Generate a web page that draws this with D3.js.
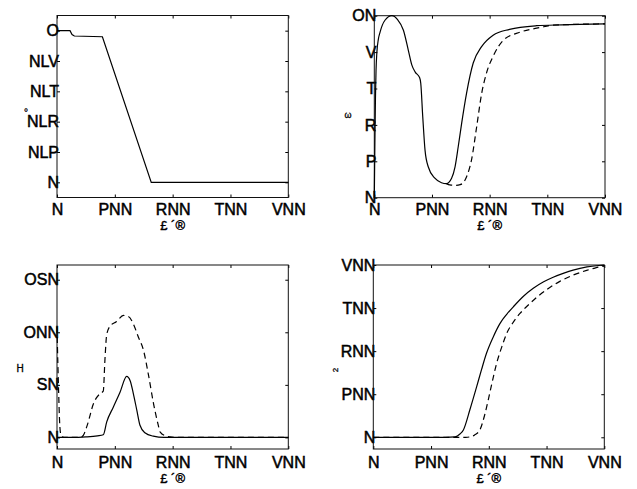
<!DOCTYPE html>
<html>
<head>
<meta charset="utf-8">
<script src="https://cdn.jsdelivr.net/npm/d3@7"></script>
<style>
  html, body { margin: 0; padding: 0; background: #fff; }
  svg { display: block; }
  text { font-family: "Liberation Sans", Arial, sans-serif; fill: #000; }
</style>
</head>
<body>
<svg id="chart" width="637" height="489"></svg>
<script>
// Shared x axis (all four panels)
const xTickValues = [0, 200, 400, 600, 800];
const xTickLabels = ["N", "PNN", "RNN", "TNN", "VNN"];
const xAxisTitle = "£ ´®";

// Panel 1 (top left)
const p1TickValues = [0, 0.2, 0.4, 0.6, 0.8, 1];
const p1TickLabels = ["N", "NLP", "NLR", "NLT", "NLV", "O"];
const p1X = [0, 45, 52, 60, 157, 326, 800];
const p1Y = [1.0, 1.0, 0.975, 0.965, 0.96, 0, 0];

// Panel 2 (top right)
const p2TickValues = [0, 2, 4, 6, 8, 10];
const p2TickLabels = ["N", "P", "R", "T", "V", "ON"];
const p2SolidX = [0, 2, 4, 6, 9, 14, 20, 37, 61, 80, 101, 118, 130, 142, 157, 161, 168, 176, 187, 210, 233, 250, 268, 280, 291, 303, 320, 343, 372, 412, 469, 563, 650, 800];
const p2SolidY = [0, 3, 5.5, 7, 8, 8.7, 9.1, 9.75, 10, 9.8, 9.2, 8.1, 7.3, 6.9, 6.6, 6.3, 4.45, 2.6, 1.7, 1.07, 0.82, 0.77, 1.07, 1.7, 2.8, 4.1, 5.75, 7.4, 8.3, 8.93, 9.25, 9.45, 9.5, 9.55];
const p2DashX = [250, 262, 280, 298, 310, 320, 337, 355, 372, 390, 413, 448, 506, 575, 621, 800];
const p2DashY = [0.77, 0.7, 0.68, 0.72, 0.85, 1.15, 2.07, 3.9, 5.7, 6.9, 7.8, 8.66, 9.1, 9.35, 9.48, 9.55];

// Panel 3 (bottom left)
const p3TickValues = [0, 50, 100, 150];
const p3TickLabels = ["N", "SN", "ONN", "OSN"];
const p3SolidX = [0, 50, 100, 140, 160, 172, 195, 218, 241, 253, 264, 276, 287, 304, 333, 370, 800];
const p3SolidY = [0, 0, 0.5, 1.5, 2.5, 14.8, 29, 43, 58, 54, 41.7, 26, 11.6, 4.4, 1.2, 0, 0];
const p3DashX = [0, 3, 6, 9, 13, 18, 30, 80, 91, 105, 126, 149, 160, 166, 172, 184, 205, 230, 247, 264, 282, 299, 316, 334, 350, 357, 375, 391, 420, 800];
const p3DashY = [105, 70, 40, 15, 3, 0.5, 0, 0, 2, 12, 32, 41.7, 44, 75, 98, 106, 110, 116, 115, 108, 95, 83, 60, 32, 12, 5, 1.5, 0.5, 0, 0];

// Panel 4 (bottom right)
const p4TickValues = [0, 200, 400, 600, 800];
const p4TickLabels = ["N", "PNN", "RNN", "TNN", "VNN"];
const p4SolidX = [0, 250, 283, 300, 312, 335, 358, 375, 392, 415, 439, 462, 485, 520, 554, 590, 623, 660, 692, 740, 800];
const p4SolidY = [0, 0, 2, 15, 34, 130, 235, 315, 390, 465, 529, 571, 606, 655, 692, 722, 743, 762, 776, 791, 800];
const p4DashX = [0, 320, 335, 350, 369, 385, 398, 412, 427, 445, 462, 485, 508, 535, 566, 605, 646, 690, 739, 770, 800];
const p4DashY = [0, 0, 2, 10, 34, 100, 173, 258, 343, 420, 482, 535, 575, 612, 650, 690, 724, 752, 775, 787, 795];

const zip = (xs, ys) => xs.map((x, i) => [x, ys[i]]);

const svg = d3.select("#chart");

function panel(cfg) {
  const g = svg.append("g");
  const x = d3.scaleLinear().domain([0, 800]).range([cfg.left, cfg.right]);
  const y = d3.scaleLinear().domain(cfg.yDomain).range([cfg.bottom, cfg.top]);

  // inward ticks on all four sides, labels only left and bottom
  const tick = 3;
  const left = d3.axisLeft(y).tickValues(cfg.yTicks)
    .tickFormat((d, i) => cfg.yLabels[i]).tickSizeInner(-tick).tickSizeOuter(0).tickPadding(-2);
  const right = d3.axisRight(y).tickValues(cfg.yTicks)
    .tickFormat("").tickSizeInner(-tick).tickSizeOuter(0);
  const bottom = d3.axisBottom(x).tickValues(xTickValues)
    .tickFormat((d, i) => xTickLabels[i]).tickSizeInner(-tick).tickSizeOuter(0).tickPadding(cfg.xPad);
  const top = d3.axisTop(x).tickValues(xTickValues)
    .tickFormat("").tickSizeInner(-tick).tickSizeOuter(0);

  const axes = [
    [left, `translate(${cfg.left},0)`],
    [right, `translate(${cfg.right},0)`],
    [bottom, `translate(0,${cfg.bottom})`],
    [top, `translate(0,${cfg.top})`]
  ];
  axes.forEach(([ax, tr]) => {
    const a = g.append("g").attr("transform", tr).call(ax);
    a.select(".domain").remove();
    a.selectAll("line").attr("stroke", "#000").attr("stroke-width", 1);
    a.selectAll("text").attr("font-size", 16).attr("font-family", "Liberation Sans, Arial, sans-serif")
      .attr("fill", "#000").attr("stroke", "#000").attr("stroke-width", 0.5);
  });

  g.append("rect")
    .attr("x", cfg.left).attr("y", cfg.top)
    .attr("width", cfg.right - cfg.left).attr("height", cfg.bottom - cfg.top)
    .attr("fill", "none").attr("stroke", "#111").attr("stroke-width", 1);

  const line = d3.line().x(d => x(d[0])).y(d => y(d[1])).curve(cfg.curve);
  cfg.series.forEach(s => {
    g.append("path").datum(s.data)
      .attr("d", line)
      .attr("fill", "none").attr("stroke", "#000")
      .attr("stroke-width", 1.2)
      .attr("stroke-dasharray", s.dashed ? "6,4" : null);
  });

  // x axis title
  g.append("text")
    .attr("x", (cfg.left + cfg.right) / 2).attr("y", cfg.titleY)
    .attr("text-anchor", "middle").attr("font-size", 13)
    .attr("fill", "#000").attr("stroke", "#000").attr("stroke-width", 0.4)
    .text(xAxisTitle);

  // y axis symbol
  g.append("text")
    .attr("x", cfg.yTitle.x).attr("y", cfg.yTitle.y)
    .attr("text-anchor", "middle").attr("font-size", cfg.yTitle.size)
    .attr("fill", "#000").attr("stroke", "#000").attr("stroke-width", 0.3)
    .attr("transform", cfg.yTitle.rotate ? `rotate(${cfg.yTitle.rotate},${cfg.yTitle.x},${cfg.yTitle.y})` : null)
    .text(cfg.yTitle.text);
}

panel({
  left: 57, right: 288.3, top: 15.5, bottom: 197.5, yDomain: [-0.1, 1.1],
  yTicks: p1TickValues, yLabels: p1TickLabels, xPad: 6, titleY: 230,
  curve: d3.curveLinear,
  series: [{ data: zip(p1X, p1Y), dashed: false }],
  yTitle: { text: "°", x: 26, y: 116, size: 10 }
});

panel({
  left: 374.3, right: 605, top: 15.7, bottom: 197.7, yDomain: [0, 10],
  yTicks: p2TickValues, yLabels: p2TickLabels, xPad: 6, titleY: 230,
  curve: d3.curveMonotoneX,
  series: [
    { data: zip(p2SolidX, p2SolidY), dashed: false },
    { data: zip(p2DashX, p2DashY), dashed: true }
  ],
  yTitle: { text: "ω", x: 348, y: 118, size: 9 }
});

panel({
  left: 57, right: 288.3, top: 265, bottom: 449, yDomain: [-11, 164],
  yTicks: p3TickValues, yLabels: p3TickLabels, xPad: 8, titleY: 483,
  curve: d3.curveMonotoneX,
  series: [
    { data: zip(p3SolidX, p3SolidY), dashed: false },
    { data: zip(p3DashX, p3DashY), dashed: true }
  ],
  yTitle: { text: "H", x: 20, y: 372, size: 10 }
});

panel({
  left: 373.3, right: 604.3, top: 265, bottom: 449, yDomain: [-54.4, 800],
  yTicks: p4TickValues, yLabels: p4TickLabels, xPad: 8, titleY: 483,
  curve: d3.curveMonotoneX,
  series: [
    { data: zip(p4SolidX, p4SolidY), dashed: false },
    { data: zip(p4DashX, p4DashY), dashed: true }
  ],
  yTitle: { text: "2", x: 338, y: 370, size: 8, rotate: -90 }
});

// right margin of the page stays blank
svg.append("rect").attr("x", 622).attr("y", 0).attr("width", 15).attr("height", 489).attr("fill", "#fff");
</script>
</body>
</html>
